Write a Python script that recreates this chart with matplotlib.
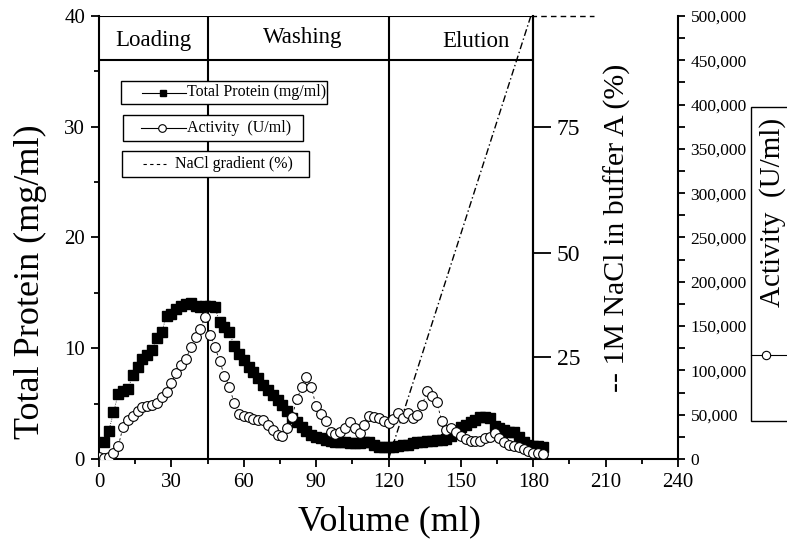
import matplotlib
matplotlib.use("Agg")
import matplotlib.pyplot as plt
from matplotlib.lines import Line2D
from matplotlib.patches import Rectangle
from matplotlib.ticker import FuncFormatter, MultipleLocator, FixedLocator

plt.rcParams["font.family"] = ["Liberation Serif", "DejaVu Serif"]

# fraction volumes (ml) and readings
protein_volume = [2, 4, 6, 8, 10, 12, 14, 16, 18, 20, 22, 24, 26, 28, 30, 32, 34, 36, 38, 40,
                  42, 44, 46, 48, 50, 52, 54, 56, 58, 60, 62, 64, 66, 68, 70, 72, 74, 76, 78, 80,
                  82, 84, 86, 88, 90, 92, 94, 96, 98, 100, 102, 104, 106, 108, 110, 112, 114, 116,
                  118, 120, 122, 124, 126, 128, 130, 132, 134, 136, 138, 140, 142, 144, 146, 148,
                  150, 152, 154, 156, 158, 160, 162, 164, 166, 168, 170, 172, 174, 176, 178, 180,
                  182, 184]
protein = [1.5, 2.5, 4.2, 5.9, 6.1, 6.3, 7.6, 8.3, 9.0, 9.4, 9.8, 10.9, 11.5, 12.9, 13.1, 13.5,
           13.8, 14.0, 14.1, 13.8, 13.7, 13.8, 13.8, 13.7, 12.4, 11.9, 11.5, 10.2, 9.5, 8.9, 8.3,
           7.9, 7.3, 6.7, 6.2, 5.8, 5.3, 4.9, 4.3, 3.7, 3.3, 2.9, 2.5, 2.2, 2.0, 1.9, 1.7, 1.6,
           1.55, 1.5, 1.5, 1.45, 1.4, 1.4, 1.5, 1.5, 1.25, 1.1, 1.1, 1.05, 1.1, 1.15, 1.25, 1.3,
           1.4, 1.5, 1.55, 1.6, 1.65, 1.7, 1.75, 1.8, 2.1, 2.5, 2.9, 3.1, 3.3, 3.5, 3.75, 3.8,
           3.7, 3.0, 2.8, 2.6, 2.4, 2.4, 2.0, 1.5, 1.3, 1.2, 1.2, 1.1]

activity_volume = [0] + protein_volume
activity = [2600, 1500, 2600, 6400, 14700, 36500, 44000, 48500, 54500, 58300, 59800, 61000,
            62900, 69600, 76000, 85400, 97400, 106000, 112500, 126000, 138000, 146400, 160600,
            140000, 126700, 111000, 93700, 81600, 63500, 50800, 48700, 47000, 45500, 44000,
            44000, 38400, 32700, 27100, 26000, 34600, 47700, 67400, 80900, 92200, 80900, 59800,
            51000, 43200, 30800, 27900, 30800, 34600, 42100, 34600, 29700, 38400, 48500, 47000,
            45900, 43200, 40500, 44800, 51600, 45900, 51600, 45900, 49700, 61000, 77100, 71100,
            64700, 43200, 32700, 34600, 30800, 26000, 22200, 20300, 20300, 20300, 23400, 25200,
            29000, 23400, 19500, 15800, 14700, 13200, 11300, 9400, 7100, 6400, 5500]

nacl_ramp_volume = [120, 179]
nacl_ramp = [0, 100]
nacl_hold_volume = [179, 205]
nacl_hold = [100, 100]

phase_edges = [45, 120, 180]
phase_names = ["Loading", "Washing", "Elution"]
nacl_ticks = [23, 46.5, 75]
nacl_tick_labels = ["25", "50", "75"]

W, H = 787, 545
LW = 1.5


def fx(px):
    return px / W


def fy(py):
    return 1 - py / H


fig = plt.figure(figsize=(W / 100, H / 100), dpi=100)
ax = fig.add_axes([fx(99), fy(459), (678 - 99) / W, (459 - 16) / H])
ax3 = ax.twinx()
ax2 = ax.twinx()

# main axis: total protein
ax.set_xlim(0, 240)
ax.set_ylim(0, 40)
ax.spines["top"].set_visible(False)
ax.spines["right"].set_visible(False)
for s in ("left", "bottom"):
    ax.spines[s].set_linewidth(LW)
ax.xaxis.set_major_locator(MultipleLocator(30))
ax.xaxis.set_minor_locator(MultipleLocator(15))
ax.yaxis.set_major_locator(MultipleLocator(10))
ax.yaxis.set_minor_locator(MultipleLocator(5))
ax.tick_params(which="both", direction="out", width=1.3, labelsize=15)
ax.tick_params(which="major", length=6)
ax.tick_params(which="minor", length=3.6)
ax.tick_params(axis="x", which="major", pad=4)
ax.tick_params(axis="y", which="major", pad=4)

ax.plot(protein_volume, protein, color="black", lw=0.6, ls=":", marker="s", ms=6.5,
        mfc="black", mec="black", zorder=3)

# phase header
for edge in phase_edges:
    ax.axvline(edge, color="black", lw=LW, zorder=2)
ax.hlines([36, 40], 0, 180, color="black", lw=LW, zorder=2)
header_x = [22.6, 84.6, 156.3]
header_y = [37.8, 38.1, 37.7]
for name, hx, hy in zip(phase_names, header_x, header_y):
    ax.text(hx, hy, name, ha="center", va="center", fontsize=16.5)

# NaCl axis at 180 ml
ax3.set_ylim(0, 100)
for s in ("top", "left", "bottom"):
    ax3.spines[s].set_visible(False)
ax3.spines["right"].set_position(("axes", 0.75))
ax3.spines["right"].set_linewidth(LW)
ax3.yaxis.set_major_locator(FixedLocator(nacl_ticks))
ax3.set_yticklabels(nacl_tick_labels)
ax3.tick_params(axis="y", direction="out", length=13, width=1.3, pad=4, labelsize=17)
ax3.plot(nacl_ramp_volume, nacl_ramp, color="black", lw=1.0, ls=(0, (5, 2, 1, 2)))
ax3.plot(nacl_hold_volume, nacl_hold, color="black", lw=1.0, ls=(0, (4, 3)), clip_on=False)
ax3.text(0.8946, 0.521, "-- 1M NaCl in buffer A (%)", transform=ax3.transAxes,
         rotation=90, ha="center", va="center", fontsize=21.5)

# activity axis
ax2.set_ylim(0, 500000)
for s in ("top", "left", "bottom"):
    ax2.spines[s].set_visible(False)
ax2.spines["right"].set_linewidth(LW)
ax2.yaxis.set_major_locator(MultipleLocator(50000))
ax2.yaxis.set_minor_locator(MultipleLocator(25000))
ax2.yaxis.set_major_formatter(FuncFormatter(lambda v, p: f"{int(v):,}"))
ax2.tick_params(which="both", direction="out", length=5, width=1.3, pad=4, labelsize=12.5)
ax2.plot(activity_volume, activity, color="black", lw=0.6, ls=(0, (3, 3)), marker="o",
         ms=7, mfc="white", mec="black", mew=0.8, zorder=4)

# axis titles
fig.text(fx(30), fy(282), "Total Protein (mg/ml)", rotation=90, ha="center", va="center",
         fontsize=26)
fig.text(fx(390), fy(522), "Volume (ml)", ha="center", va="center", fontsize=26)

# legend boxes
legend_rows = [
    ((121, 81, 327, 104), "Total Protein (mg/ml)"),
    ((123, 115, 303, 141), "Activity  (U/ml)"),
    ((122, 151, 309, 177), "NaCl gradient (%)"),
]
for i, ((x0, y0, x1, y1), label) in enumerate(legend_rows):
    fig.add_artist(Rectangle((fx(x0), fy(y1)), (x1 - x0) / W, (y1 - y0) / H,
                             transform=fig.transFigure, facecolor="white",
                             edgecolor="black", lw=1.0, zorder=5))
    yc = fy((y0 + y1) / 2)
    if i == 0:
        fig.add_artist(Line2D([fx(142), fx(186)], [yc, yc], color="black", lw=0.8,
                              transform=fig.transFigure, zorder=6))
        fig.add_artist(Line2D([fx(163)], [yc], marker="s", ms=5, color="black",
                              transform=fig.transFigure, zorder=6))
        tx = 187
    elif i == 1:
        fig.add_artist(Line2D([fx(141), fx(186)], [yc, yc], color="black", lw=0.8,
                              transform=fig.transFigure, zorder=6))
        fig.add_artist(Line2D([fx(162)], [yc], marker="o", ms=5.5, mfc="white", mec="black",
                              mew=0.8, transform=fig.transFigure, zorder=6))
        tx = 187
    else:
        fig.add_artist(Line2D([fx(143), fx(166)], [yc, yc], color="black", lw=0.8,
                              ls=(0, (3, 3)), transform=fig.transFigure, zorder=6))
        tx = 175
    fig.text(fx(tx), yc, label, ha="left", va="center", fontsize=11.5, zorder=7)

# right side activity legend box (cut by the figure edge)
fig.add_artist(Rectangle((fx(751), fy(421)), 60 / W, (421 - 107) / H,
                         transform=fig.transFigure, facecolor="white", edgecolor="black",
                         lw=1.0, zorder=5, clip_on=False))
fig.text(fx(773), fy(212), "Activity  (U/ml)", rotation=90, ha="center", va="center",
         fontsize=21, zorder=7)
fig.add_artist(Line2D([fx(751), fx(787)], [fy(355), fy(355)], color="black", lw=0.8,
                      transform=fig.transFigure, zorder=6))
fig.add_artist(Line2D([fx(766)], [fy(355)], marker="o", ms=6, mfc="white", mec="black",
                      mew=0.8, transform=fig.transFigure, zorder=6))

fig.savefig("out.png", dpi=100)
